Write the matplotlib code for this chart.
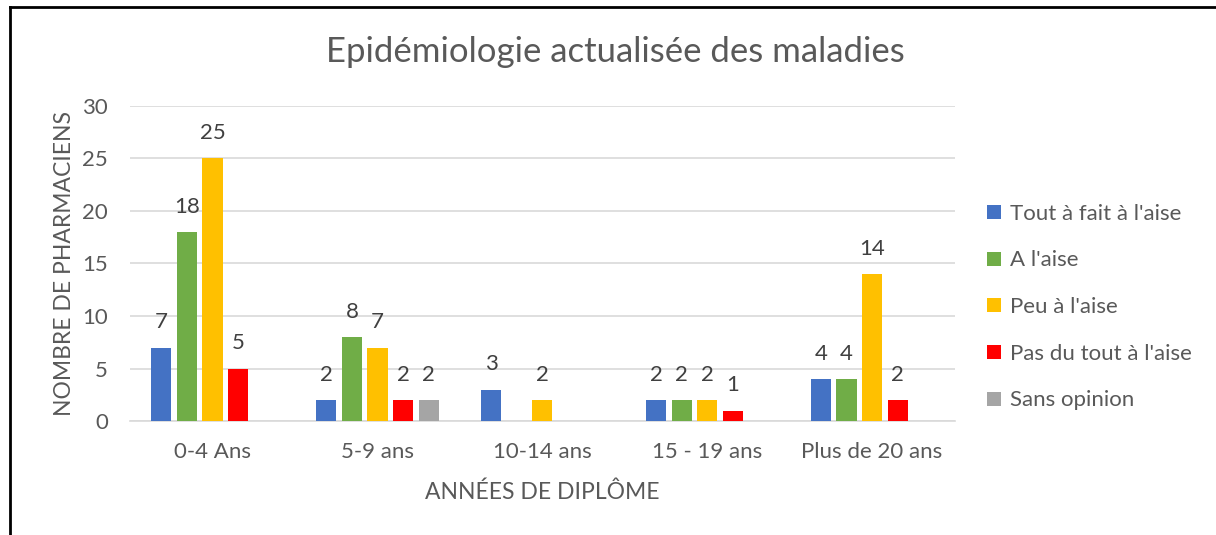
import numpy as np
import matplotlib
matplotlib.use("Agg")
import matplotlib.pyplot as plt
from matplotlib.patches import Patch
from matplotlib.lines import Line2D

plt.rcParams['font.family'] = ['Lato', 'DejaVu Sans']

categories = ["0-4 Ans", "5-9 ans", "10-14 ans", "15 - 19 ans", "Plus de 20 ans"]
series_names = ["Tout à fait à l'aise", "A l'aise", "Peu à l'aise",
                "Pas du tout à l'aise", "Sans opinion"]
tout_a_fait = [7, 2, 3, 2, 4]
a_l_aise = [18, 8, 0, 2, 4]
peu = [25, 7, 2, 2, 14]
pas_du_tout = [5, 2, 0, 1, 2]
sans_opinion = [0, 2, 0, 0, 0]
values = [tout_a_fait, a_l_aise, peu, pas_du_tout, sans_opinion]
colors = ["#4472C4", "#70AD47", "#FFC000", "#FF0000", "#A5A5A5"]

text_col = "#595959"

fig = plt.figure(figsize=(12.16, 5.35), dpi=100)
ax = fig.add_axes([0.107, 0.213, 0.678, 0.589])

x = np.arange(len(categories))
step = 0.155
width = 0.122
for i, (name, vals, c) in enumerate(zip(series_names, values, colors)):
    pos = x + (i - 2) * step
    ax.bar(pos, vals, width=width, color=c, zorder=3)
    for px, v in zip(pos, vals):
        if v > 0:
            ax.text(px, v + 2.4, str(v), ha='center', va='center',
                    fontsize=16, color="#404040")

ax.set_xlim(-0.5, len(categories) - 0.5)
ax.set_ylim(0, 30)
ax.set_yticks(range(0, 31, 5))
ax.set_xticks(x)
ax.set_xticklabels(categories)
ax.tick_params(length=0, labelsize=16, labelcolor=text_col)
ax.tick_params(axis='x', pad=15)
ax.tick_params(axis='y', pad=16)
ax.grid(axis='y', color="#d9d9d9", linewidth=1.2, zorder=0)
for s in ['top', 'right', 'left']:
    ax.spines[s].set_visible(False)
ax.spines['bottom'].set_color("#d9d9d9")
ax.spines['bottom'].set_linewidth(1.2)

ax.set_ylabel("NOMBRE DE PHARMACIENS", fontsize=16.5, color=text_col, labelpad=5)
ax.set_xlabel("ANNÉES DE DIPLÔME", fontsize=16.5, color=text_col, labelpad=14)

fig.text(0.506, 0.903, "Epidémiologie actualisée des maladies",
         ha='center', va='center', fontsize=25, color=text_col)

handles = [Patch(facecolor=c, edgecolor='none') for c in colors]
fig.legend(handles, series_names, loc='center left',
           bbox_to_anchor=(0.812, 0.426), frameon=False, fontsize=16,
           labelspacing=1.2, handlelength=0.6, handleheight=0.6,
           handletextpad=0.4, borderpad=0, borderaxespad=0,
           labelcolor=text_col)

# frame lines along the top and left edges
fig.add_artist(Line2D([0.008, 1.0], [0.987, 0.987], color='black',
                      linewidth=2, transform=fig.transFigure))
fig.add_artist(Line2D([0.008, 0.008], [0.0, 0.987], color='black',
                      linewidth=2, transform=fig.transFigure))

fig.savefig("out.png", dpi=100)
